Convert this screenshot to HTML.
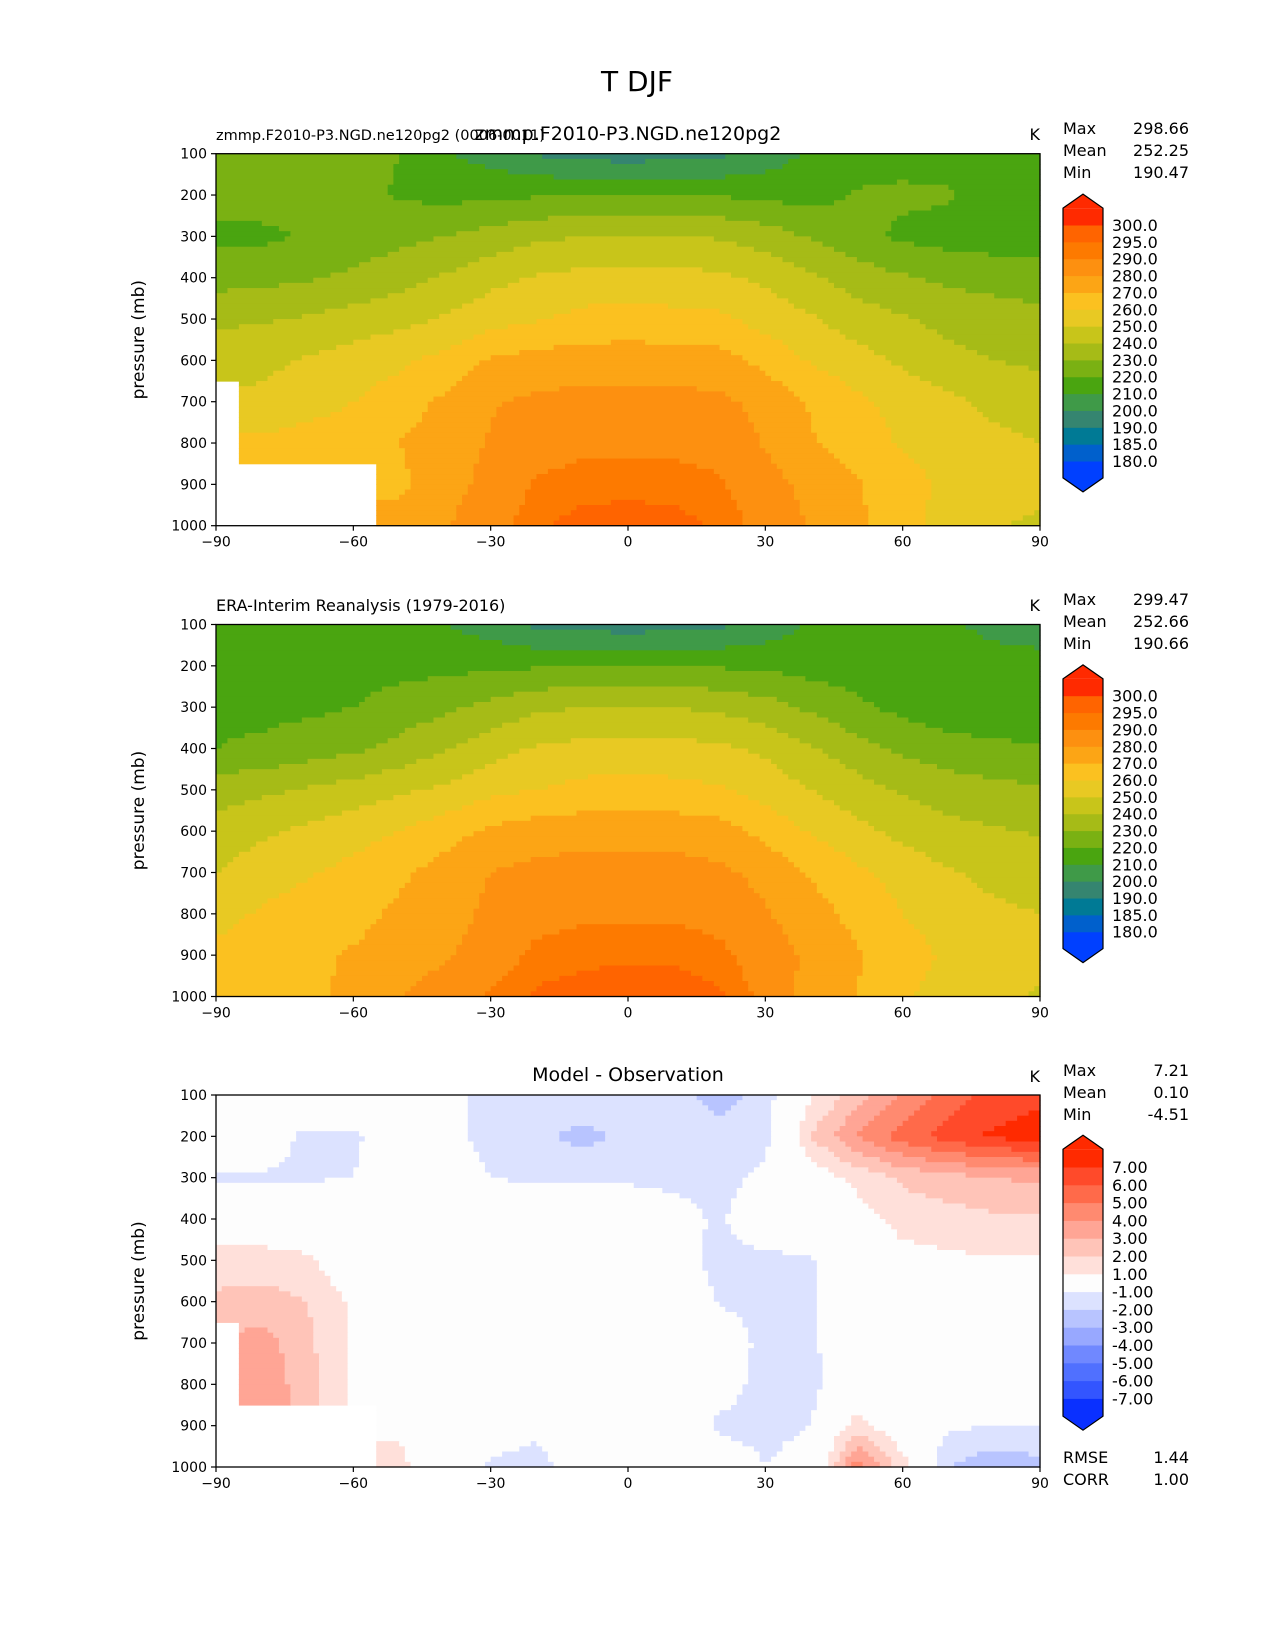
<!DOCTYPE html>
<html><head><meta charset="utf-8"><title>T DJF</title>
<style>
html,body{margin:0;padding:0;background:#fff;}
svg{display:block;font-family:"DejaVu Sans","Liberation Sans",sans-serif;}
</style></head>
<body>
<svg id="fig" xmlns="http://www.w3.org/2000/svg" width="1275" height="1650" viewBox="0 0 1275 1650">
<rect x="0" y="0" width="1275" height="1650" fill="#fff"/>
<text x="637" y="91" font-size="28" text-anchor="middle">T DJF</text>

<g>
<text x="216" y="140" font-size="14.5">zmmp.F2010-P3.NGD.ne120pg2 (0006-0011)</text>
<text x="628" y="140" font-size="19" text-anchor="middle">zmmp.F2010-P3.NGD.ne120pg2</text>
<text x="1040" y="140" font-size="16" text-anchor="end">K</text>
<text x="1063" y="134" font-size="16">Max</text>
<text x="1189" y="134" font-size="16" text-anchor="end">298.66</text>
<text x="1063" y="156" font-size="16">Mean</text>
<text x="1189" y="156" font-size="16" text-anchor="end">252.25</text>
<text x="1063" y="178" font-size="16">Min</text>
<text x="1189" y="178" font-size="16" text-anchor="end">190.47</text>
<g id="field1"></g>
</g>

<g>
<text x="216" y="611" font-size="16">ERA-Interim Reanalysis (1979-2016)</text>
<text x="1040" y="611" font-size="16" text-anchor="end">K</text>
<text x="1063" y="605" font-size="16">Max</text>
<text x="1189" y="605" font-size="16" text-anchor="end">299.47</text>
<text x="1063" y="627" font-size="16">Mean</text>
<text x="1189" y="627" font-size="16" text-anchor="end">252.66</text>
<text x="1063" y="649" font-size="16">Min</text>
<text x="1189" y="649" font-size="16" text-anchor="end">190.66</text>
<g id="field2"></g>
</g>

<g>
<text x="628" y="1081" font-size="19" text-anchor="middle">Model - Observation</text>
<text x="1040" y="1082" font-size="16" text-anchor="end">K</text>
<text x="1063" y="1076" font-size="16">Max</text>
<text x="1189" y="1076" font-size="16" text-anchor="end">7.21</text>
<text x="1063" y="1098" font-size="16">Mean</text>
<text x="1189" y="1098" font-size="16" text-anchor="end">0.10</text>
<text x="1063" y="1120" font-size="16">Min</text>
<text x="1189" y="1120" font-size="16" text-anchor="end">-4.51</text>
<text x="1063" y="1463" font-size="16">RMSE</text>
<text x="1189" y="1463" font-size="16" text-anchor="end">1.44</text>
<text x="1063" y="1485" font-size="16">CORR</text>
<text x="1189" y="1485" font-size="16" text-anchor="end">1.00</text>
<g id="field3"></g>
</g>
</svg>
<script>
const lats = [-90,-80,-70,-60,-50,-40,-30,-20,-10,0,10,20,30,40,50,60,70,80,90];
const pressures = [100,200,300,400,500,600,700,800,900,1000];
const xTicks = [-90,-60,-30,0,30,60,90];
const yTicks = [100,200,300,400,500,600,700,800,900,1000];

const modelT = [
[225,225,225,224,220,211,206,199,196,195,196,198,204,212,215,216,216,216,216],
[224,224,224,223,219,217,218,219,220,220,220,219,218,216,221,222,221,217,216],
[218,218,221,224,227,230,234,238,240,240,240,239,235,229,224,218,216,215,214],
[226,227,229,232,236,241,247,251,253,253,253,252,248,242,235,231,228,226,225],
[238,239,241,244,247,251,256,259,263,264,263,262,256,251,245,241,237,235,233],
[246,247,251,255,258,263,271,274,275,275,275,274,267,259,254,248,243,240,238],
[null,253,256,260,265,272,279,282,283,283,283,282,277,269,262,257,252,248,246],
[null,262,264,266,270,275,281,286,288,288,288,287,279,271,265,259,255,252,250],
[null,null,null,null,268,276,283,291,293,293,293,291,284,277,271,264,258,255,253],
[null,null,null,null,274,279,287,294,297,298,297,294,287,279,272,263,256,251,248]
];
const obsT = [
[215,215,215,215,214,210,205,198,196,195,196,198,204,211,213,213,211,208,206],
[215,215,216,216,217,217,218,219,220,220,220,219,218,216,215,214,213,213,213],
[218,217,218,220,224,228,233,238,240,240,240,238,234,228,222,217,214,213,213],
[220,222,225,228,233,239,246,251,253,253,253,252,248,241,234,228,224,222,221],
[236,238,241,244,248,252,257,260,263,264,263,261,256,250,244,239,235,233,231],
[243,248,252,256,260,266,272,275,276,276,276,274,267,259,253,247,243,241,239],
[250,256,259,263,268,274,280,283,284,284,284,282,277,269,262,256,251,247,245],
[257,261,264,267,272,276,282,287,289,289,289,287,281,274,267,260,255,252,250],
[262,265,268,271,274,279,285,292,293,294,294,292,285,278,271,265,258,255,253],
[262,265,268,272,280,285,291,296,298,299,298,296,288,276,270,261,256,253,249]
];
const diffT = [
[0,0,0,0,0,-0.6,-1.5,-1.5,-1.3,-1.5,-1.5,-2.5,-1.5,0.9,2.5,4,5.5,6.3,6.8],
[0,-0.5,-1.2,-1.1,-0.6,-0.5,-1.5,-1.8,-2.3,-1.8,-1.5,-1.5,-1.3,2,4,5.5,6.5,7.2,7.5],
[-1.1,-1.1,-1.1,-1.0,-0.7,0,-1.0,-1.2,-1.2,-1.2,-1.3,-1.3,-0.8,0.3,1.3,2.2,2.6,3.0,3.2],
[0,0,0,0,0,0,0,0,0,0,-0.5,-1.2,0,0,0.5,1.4,1.6,1.8,1.8],
[1.5,1.5,1.2,0,0,0,0,0,0,0,-0.6,-1.3,-1.3,-1.1,0,0.6,0.8,0.9,0.9],
[2.2,2.4,2.0,0.8,0,0,0,0,0,0,0,-1.1,-1.3,-1.1,0,0,0,0,0],
[null,3.5,2.2,0.9,0,0,0,0,0,0,0,-0.3,-1.3,-1.2,0,0,0,0,0],
[null,3.8,2.4,0.8,0,0,0,0,0,0,0,-0.5,-1.4,-1.3,0,0,0,0,0],
[null,null,null,null,0.8,0,0,-0.7,0,0,0,-1.2,-1.3,-1.0,1.5,0,-0.8,-1.0,-1.0],
[null,null,null,null,1.3,0,-1.3,-1.5,-0.2,0,0,-0.3,-1.0,-0.5,4.5,1.5,-2,-2.8,-2.3]
];

const tLevels = [180,185,190,200,210,220,230,240,250,260,270,280,290,295,300];
const tLevelLabels = ["180.0","185.0","190.0","200.0","210.0","220.0","230.0","240.0","250.0","260.0","270.0","280.0","290.0","295.0","300.0"];
const tColors = ["#0040ff","#0060cc","#007a95","#358570","#3f9a48","#4aa510","#7ab113","#a6bb17","#c8c51a","#e8c923","#fbc120","#fca515","#fd9010","#fd7a00","#ff6400","#ff2a00"];
const dLevels = [-7,-6,-5,-4,-3,-2,-1,1,2,3,4,5,6,7];
const dLevelLabels = ["-7.00","-6.00","-5.00","-4.00","-3.00","-2.00","-1.00","1.00","2.00","3.00","4.00","5.00","6.00","7.00"];
const dColors = ["#0a30ff","#3355ff","#5070ff","#7088ff","#98a8ff","#b8c4ff","#dce2ff","#fdfdfd","#ffe0da","#ffc4b8","#ffa595","#ff8a70","#ff6a4a","#ff4a2a","#ff2a00"];

const NS = "http://www.w3.org/2000/svg";
const X0 = 216, W = 824, H = 372;
const panelTops = [153.7, 624.5, 1095];
function xScale(lat){ return X0 + (lat - lats[0]) / (lats[lats.length-1] - lats[0]) * W; }
function yScaleFor(top){ return function(p){ return top + (p - pressures[0]) / (pressures[pressures.length-1] - pressures[0]) * H; }; }
function mk(tag, attrs, parent){ const e = document.createElementNS(NS, tag); for (const k in attrs) e.setAttribute(k, attrs[k]); parent.appendChild(e); return e; }
function colorOf(v, levels, colors){ let i = 0; while (i < levels.length && v >= levels[i]) i++; return colors[i]; }

function drawField(g, data, top, levels, colors){
  const ys = yScaleFor(top);
  const N = 8;
  const nc = (lats.length-1)*N, nr = (pressures.length-1)*N;
  for (let r = 0; r < nr; r++){
    const fy = (r+0.5)/N; const j = Math.min(Math.floor(fy), pressures.length-2); const ty = fy - j;
    const pA = pressures[j] + (pressures[j+1]-pressures[j]) * (r/N - j);
    const pB = pressures[j] + (pressures[j+1]-pressures[j]) * ((r+1)/N - j);
    const y0 = ys(pA), y1 = ys(pB);
    let runStart = null, runColor = null;
    const flush = function(endC){
      if (runColor !== null){
        const la = lats[0] + (lats[1]-lats[0]) * runStart / N;
        const lb = lats[0] + (lats[1]-lats[0]) * endC / N;
        const rect = mk('rect', {x: xScale(la).toFixed(2), y: y0.toFixed(2), width: (xScale(lb)-xScale(la)+0.6).toFixed(2), height: (y1-y0+0.6).toFixed(2), fill: runColor}, g);
        
        
      }
    };
    for (let c = 0; c < nc; c++){
      const fx = (c+0.5)/N; const i = Math.min(Math.floor(fx), lats.length-2); const tx = fx - i;
      const near = data[Math.round(fy)][Math.round(fx)];
      let col = null;
      if (near !== null){
        const pts = [[data[j][i],(1-tx)*(1-ty)],[data[j][i+1],tx*(1-ty)],[data[j+1][i],(1-tx)*ty],[data[j+1][i+1],tx*ty]];
        let s = 0, w = 0;
        for (const [v, wt] of pts){ if (v !== null){ s += v*wt; w += wt; } }
        col = colorOf(s/w, levels, colors);
      }
      if (col !== runColor){ flush(c); runStart = c; runColor = col; }
    }
    flush(nc);
  }
}

function drawAxes(svg, top, idx){
  const ys = yScaleFor(top);
  const frame = mk('rect', {x: X0, y: top, width: W, height: H, fill: 'none', stroke: '#000', 'stroke-width': 1.3}, svg);
  
  
  yTicks.forEach(function(p){
    const t = mk('line', {x1: X0-5, x2: X0, y1: ys(p), y2: ys(p), stroke: '#000', 'stroke-width': 1.2}, svg);
    
    
    const lb = mk('text', {x: X0-9, y: ys(p)+5, 'font-size': 14, 'text-anchor': 'end'}, svg);
    lb.textContent = String(p);
    
    
  });
  xTicks.forEach(function(l){
    const t = mk('line', {x1: xScale(l), x2: xScale(l), y1: top+H, y2: top+H+5, stroke: '#000', 'stroke-width': 1.2}, svg);
    
    
    const lb = mk('text', {x: xScale(l), y: top+H+21, 'font-size': 14, 'text-anchor': 'middle'}, svg);
    lb.textContent = l < 0 ? '\u2212' + Math.abs(l) : String(l);
    
    
  });
  const yt = mk('text', {x: 0, y: 0, 'font-size': 17, 'text-anchor': 'middle', transform: 'translate(144,' + (top+H/2) + ') rotate(-90)'}, svg);
  yt.textContent = 'pressure (mb)';
  
  
}

function drawColorbar(svg, b0, step, levels, labels, colors){
  const xl = 1063, xr = 1103, xm = (xl+xr)/2;
  const n = levels.length;
  const yb = function(k){ return b0 + (n-1-k)*step; };
  const rectTop = b0 - step, rectBot = yb(0) + step, tri = 14;
  for (let k = 0; k <= n; k++){
    const ya = k === n ? rectTop : yb(k);
    const yb2 = k === 0 ? rectBot : yb(k-1);
    const band = mk('rect', {x: xl, y: ya, width: xr-xl, height: yb2-ya+0.5, fill: colors[k]}, svg);
    
    
  }
  const up = mk('polygon', {points: xl+','+rectTop+' '+xm+','+(rectTop-tri)+' '+xr+','+rectTop, fill: colors[n]}, svg);
  
  
  const dn = mk('polygon', {points: xl+','+rectBot+' '+xm+','+(rectBot+tri)+' '+xr+','+rectBot, fill: colors[0]}, svg);
  
  
  const ol = mk('polygon', {points: xl+','+rectTop+' '+xm+','+(rectTop-tri)+' '+xr+','+rectTop+' '+xr+','+rectBot+' '+xm+','+(rectBot+tri)+' '+xl+','+rectBot, fill: 'none', stroke: '#000', 'stroke-width': 1.2}, svg);
  
  
  for (let k = 0; k < n; k++){
    const t = mk('text', {x: 1112, y: yb(k)+6, 'font-size': 16}, svg);
    t.textContent = labels[k];
    
    
  }
}

const svg = document.getElementById('fig');
drawField(document.getElementById('field1'), modelT, panelTops[0], tLevels, tColors);
drawField(document.getElementById('field2'), obsT, panelTops[1], tLevels, tColors);
drawField(document.getElementById('field3'), diffT, panelTops[2], dLevels, dColors);
drawAxes(svg, panelTops[0], 1);
drawAxes(svg, panelTops[1], 2);
drawAxes(svg, panelTops[2], 3);
drawColorbar(svg, 225, 16.86, tLevels, tLevelLabels, tColors);
drawColorbar(svg, 695.7, 16.86, tLevels, tLevelLabels, tColors);
drawColorbar(svg, 1167, 17.8, dLevels, dLevelLabels, dColors);
</script>
</body></html>
